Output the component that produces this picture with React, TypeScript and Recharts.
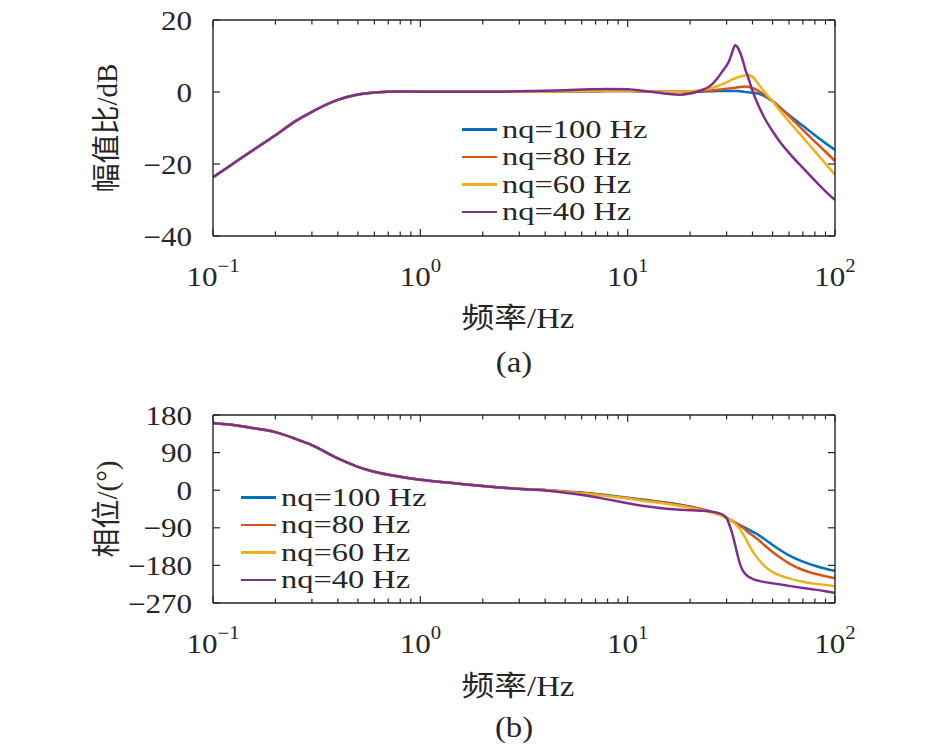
import React from "react";
import { LineChart, Line, XAxis, YAxis, Legend } from "recharts";

const INK = "#262626";
const SERIF = "'Liberation Serif', 'Times New Roman', 'Noto Sans CJK SC', serif";
const WIDE = 1.15;

// frequency grid, Hz
const freq = [
  0.1, 0.12, 0.15, 0.2, 0.25, 0.3, 0.4, 0.5, 0.6, 0.8,
  1, 1.5, 2, 3, 4, 5, 6.5, 8, 10, 12,
  15, 18, 20, 22, 25, 27, 29, 30, 31, 32,
  33, 34, 35, 36, 37, 38, 40, 43, 46, 50,
  55, 60, 70, 80, 90, 100,
];

// magnitude, dB
const mag100 = [
  -23.7, -20.6, -16.8, -12.0, -8.1, -5.5, -2.2, -0.7, -0.15, 0.15,
  0.1, 0.05, 0.05, 0.1, 0.1, 0.15, 0.2, 0.25, 0.25, 0.2,
  0.1, 0.05, 0.05, 0.1, 0.2, 0.25, 0.3, 0.3, 0.3, 0.3,
  0.3, 0.25, 0.2, 0.1, 0.0, -0.1, -0.2, -0.5, -1.2, -2.6,
  -4.6, -6.4, -9.4, -12.0, -14.2, -16.1,
];
const mag80 = [
  -23.7, -20.6, -16.8, -12.0, -8.1, -5.5, -2.2, -0.7, -0.15, 0.15,
  0.1, 0.05, 0.05, 0.1, 0.1, 0.15, 0.2, 0.25, 0.25, 0.2,
  0.1, 0.05, 0.1, 0.2, 0.4, 0.6, 0.8, 0.9, 1.0, 1.1,
  1.2, 1.3, 1.4, 1.45, 1.5, 1.45, 1.1, 0.2, -0.9, -2.5,
  -4.6, -6.7, -10.5, -13.8, -16.6, -19.2,
];
const mag60 = [
  -23.7, -20.6, -16.8, -12.0, -8.1, -5.5, -2.2, -0.7, -0.15, 0.15,
  0.1, 0.05, 0.05, 0.1, 0.15, 0.2, 0.3, 0.35, 0.35, 0.25,
  0.1, 0.1, 0.2, 0.45, 1.0, 1.6, 2.3, 2.7, 3.1, 3.5,
  3.8, 4.1, 4.3, 4.5, 4.6, 4.7, 4.2, 2.0, -0.2, -2.6,
  -5.6, -8.2, -12.6, -16.5, -19.9, -23.0,
];
const mag40 = [
  -23.7, -20.6, -16.8, -12.0, -8.1, -5.5, -2.2, -0.7, -0.15, 0.15,
  0.1, 0.05, 0.05, 0.2, 0.35, 0.5, 0.75, 0.85, 0.75, 0.3,
  -0.4, -0.75, -0.4, 0.2, 1.7, 3.7, 6.2, 7.3, 8.9, 11.2,
  13.0, 12.3, 10.7, 8.6, 6.1, 4.3, 0.3, -4.1, -7.5, -10.9,
  -14.3, -16.9, -21.1, -24.6, -27.6, -30.0,
];

// phase, degrees
const ph100 = [
  161, 157, 150, 139, 123, 108, 76, 56, 44, 32,
  25, 16, 10, 3.5, 0.5, -3, -7, -12, -18, -23,
  -29, -35, -39, -44, -51, -56, -62, -66, -70, -74,
  -77, -81, -84, -87, -90, -93, -99, -108, -118, -131,
  -145, -156, -171, -181, -188, -193,
];
const ph80 = [
  161, 157, 150, 139, 123, 108, 76, 56, 44, 32,
  25, 16, 10, 3.5, 0.5, -3.5, -8, -13, -19, -24,
  -30, -36, -40, -44, -51, -56, -62, -66, -70, -74,
  -78, -82, -86, -90, -95, -100, -108, -120, -133, -148,
  -163, -175, -191, -200, -206, -211,
];
const ph60 = [
  161, 157, 150, 139, 123, 108, 76, 56, 44, 32,
  25, 16, 10, 3.5, 0.5, -4, -9, -14, -20, -26,
  -32, -38, -42, -46, -52, -57, -62, -66, -70, -74,
  -80, -87, -95, -105, -115, -126, -146, -167, -183, -196,
  -205, -211, -219, -224, -227, -230,
];
const ph40 = [
  161, 157, 150, 139, 123, 108, 76, 56, 44, 32,
  25, 16, 10, 3, -1, -6, -14, -22, -31, -38,
  -44, -47, -48, -49, -51, -54, -60, -67, -84, -105,
  -131, -158, -180, -193, -201, -206, -212, -217, -220, -223,
  -226, -229, -234, -238, -242, -246,
];

const freqTicks = [
  0.1, 0.2, 0.3, 0.4, 0.5, 0.6, 0.7, 0.8, 0.9,
  1, 2, 3, 4, 5, 6, 7, 8, 9,
  10, 20, 30, 40, 50, 60, 70, 80, 90, 100,
];
const magTicks = [-40, -20, 0, 20];
const phaseTicks = [-270, -180, -90, 0, 90, 180];

const seriesNames = ["nq=100 Hz", "nq=80 Hz", "nq=60 Hz", "nq=40 Hz"];
const seriesColors = ["#0072BD", "#D95319", "#EDB120", "#7E2F8E"];

const magData = freq.map((f, i) => ({ f, s0: mag100[i], s1: mag80[i], s2: mag60[i], s3: mag40[i] }));
const phaseData = freq.map((f, i) => ({ f, s0: ph100[i], s1: ph80[i], s2: ph60[i], s3: ph40[i] }));

const minus = (v: number) => (v < 0 ? `\u2212${-v}` : `${v}`);
const isDecade = (v: number) => Math.abs(Math.log10(v) - Math.round(Math.log10(v))) < 1e-6;

function BottomTick({ x, y, payload }: any) {
  const major = isDecade(payload.value);
  const exp = Math.round(Math.log10(payload.value));
  return (
    <g>
      <line x1={x} y1={y} x2={x} y2={y - (major ? 7 : 4.5)} stroke={INK} strokeWidth={1.2} />
      {major && (
        <text
          transform={`translate(${x},${y + 50}) scale(${WIDE},1)`}
          textAnchor="middle"
          fontFamily={SERIF}
          fontSize={27}
          fill={INK}
        >
          10
          <tspan dy={-14} fontSize={18}>{minus(exp)}</tspan>
        </text>
      )}
    </g>
  );
}

function TopTick({ x, y, payload }: any) {
  const major = isDecade(payload.value);
  return <line x1={x} y1={y} x2={x} y2={y + (major ? 7 : 4.5)} stroke={INK} strokeWidth={1.2} />;
}

function LeftTick({ x, y, payload }: any) {
  return (
    <g>
      <line x1={x} y1={y} x2={x + 7} y2={y} stroke={INK} strokeWidth={1.2} />
      <text
        transform={`translate(${x - 21},${y + 9.5}) scale(${WIDE},1)`}
        textAnchor="end"
        fontFamily={SERIF}
        fontSize={27}
        fill={INK}
      >
        {minus(payload.value)}
      </text>
    </g>
  );
}

function RightTick({ x, y }: any) {
  return <line x1={x} y1={y} x2={x - 7} y2={y} stroke={INK} strokeWidth={1.2} />;
}

// legend rows sit tight (27.4px), so the text is kept a little small and widened instead
function LegendBox({ payload }: any) {
  const items = [...(payload || [])].sort(
    (a: any, b: any) => seriesNames.indexOf(a.value) - seriesNames.indexOf(b.value)
  );
  return (
    <div>
      {items.map((item: any) => (
        <div key={item.value} style={{ display: "flex", alignItems: "center", height: 27.4 }}>
          <div style={{ width: 35, height: 2.5, background: item.color }} />
          <span
            style={{
              marginLeft: 5,
              fontFamily: SERIF,
              fontSize: 24.6,
              lineHeight: "27.4px",
              color: INK,
              whiteSpace: "nowrap",
              display: "inline-block",
              transform: "scale(1.32,1.06)",
              transformOrigin: "left center",
            }}
          >
            {item.value}
          </span>
        </div>
      ))}
    </div>
  );
}

function BodePanel({ data, domain, ticks, marginTop, marginBottom, legendLeft, legendTop }: any) {
  return (
    <LineChart
      width={946}
      height={375}
      data={data}
      margin={{ top: marginTop, right: 110, bottom: marginBottom, left: 212 }}
    >
      <XAxis
        xAxisId="b"
        dataKey="f"
        type="number"
        scale="log"
        domain={[0.1, 100]}
        allowDataOverflow
        ticks={freqTicks}
        interval={0}
        height={1}
        tickSize={0}
        tickMargin={0}
        tickLine={false}
        tick={<BottomTick />}
        axisLine={{ stroke: INK, strokeWidth: 1.4 }}
      />
      <XAxis
        xAxisId="t"
        orientation="top"
        dataKey="f"
        type="number"
        scale="log"
        domain={[0.1, 100]}
        allowDataOverflow
        ticks={freqTicks}
        interval={0}
        height={1}
        tickSize={0}
        tickMargin={0}
        tickLine={false}
        tick={<TopTick />}
        axisLine={{ stroke: INK, strokeWidth: 1.4 }}
      />
      <YAxis
        yAxisId="l"
        type="number"
        domain={domain}
        allowDataOverflow
        ticks={ticks}
        interval={0}
        width={1}
        tickSize={0}
        tickMargin={0}
        tickLine={false}
        tick={<LeftTick />}
        axisLine={{ stroke: INK, strokeWidth: 1.4 }}
      />
      <YAxis
        yAxisId="r"
        orientation="right"
        type="number"
        domain={domain}
        allowDataOverflow
        ticks={ticks}
        interval={0}
        width={1}
        tickSize={0}
        tickMargin={0}
        tickLine={false}
        tick={<RightTick />}
        axisLine={{ stroke: INK, strokeWidth: 1.4 }}
      />
      <Legend
        layout="vertical"
        align="center"
        verticalAlign="middle"
        content={<LegendBox />}
        wrapperStyle={{ left: legendLeft, top: legendTop, width: "auto", height: "auto" }}
      />
      {seriesNames.map((name, i) => (
        <Line
          key={name}
          xAxisId="b"
          yAxisId="l"
          dataKey={`s${i}`}
          name={name}
          type="monotone"
          stroke={seriesColors[i]}
          strokeWidth={2.5}
          dot={false}
          activeDot={false}
          isAnimationActive={false}
        />
      ))}
    </LineChart>
  );
}

export default function App() {
  const titleProps = { fontFamily: SERIF, fontSize: 28.5, fill: INK } as const;
  const sideProps = { fontFamily: SERIF, fontSize: 29, fill: INK } as const;
  return (
    <div style={{ position: "absolute", left: 0, top: 0, width: 946, height: 750, background: "#fff" }}>
      <div style={{ position: "absolute", left: 0, top: 0 }}>
        <BodePanel
          data={magData}
          domain={[-40, 20]}
          ticks={magTicks}
          marginTop={19}
          marginBottom={138}
          legendLeft={462}
          legendTop={116}
        />
      </div>
      <div style={{ position: "absolute", left: 0, top: 375 }}>
        <BodePanel
          data={phaseData}
          domain={[-270, 180]}
          ticks={phaseTicks}
          marginTop={39}
          marginBottom={146}
          legendLeft={241}
          legendTop={109}
        />
      </div>
      <svg
        width={946}
        height={750}
        style={{ position: "absolute", left: 0, top: 0, pointerEvents: "none" }}
      >
        <text transform="translate(107,128) rotate(-90)" textAnchor="middle" dominantBaseline="central" {...sideProps}>
          幅值比/dB
        </text>
        <text transform={`translate(518,328) scale(${WIDE},1)`} textAnchor="middle" {...titleProps}>
          频率/Hz
        </text>
        <text transform={`translate(514,372) scale(${WIDE},1)`} textAnchor="middle" {...titleProps}>
          (a)
        </text>
        <text transform="translate(107,509) rotate(-90)" textAnchor="middle" dominantBaseline="central" {...sideProps}>
          相位/(°)
        </text>
        <text transform={`translate(518,696) scale(${WIDE},1)`} textAnchor="middle" {...titleProps}>
          频率/Hz
        </text>
        <text transform={`translate(514,737) scale(${WIDE},1)`} textAnchor="middle" {...titleProps}>
          (b)
        </text>
      </svg>
    </div>
  );
}
